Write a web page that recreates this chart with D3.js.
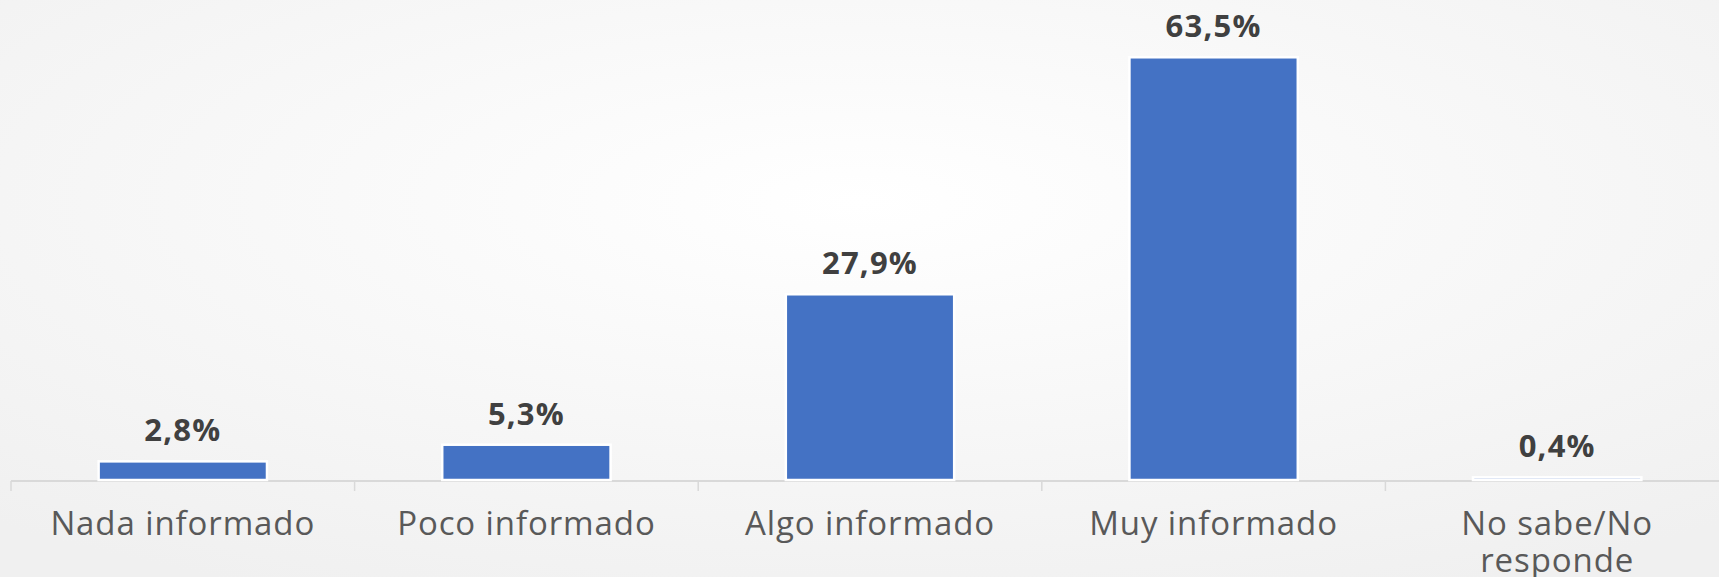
<!DOCTYPE html>
<html>
<head>
<meta charset="utf-8">
<script src="https://cdn.jsdelivr.net/npm/d3@7"></script>
<style>
  html, body { margin: 0; padding: 0; overflow: hidden; }
  body { width: 1719px; height: 577px; }
</style>
</head>
<body>
<section></section>
<script>
const categories = ["Nada informado", "Poco informado", "Algo informado", "Muy informado", "No sabe/No responde"];
const values = [2.8, 5.3, 27.9, 63.5, 0.4];
const valueLabels = ["2,8%", "5,3%", "27,9%", "63,5%", "0,4%"];

const width = 1719, height = 577;

const svg = d3.select("section")
  .append("svg")
  .attr("width", width)
  .attr("height", height);

// soft radial background
const defs = svg.append("defs");
const bg = defs.append("radialGradient")
  .attr("id", "bg")
  .attr("cx", "0.5").attr("cy", "0.35").attr("r", "0.75");
bg.append("stop").attr("offset", "0%").attr("stop-color", "#ffffff");
bg.append("stop").attr("offset", "100%").attr("stop-color", "#f0f0f0");
svg.append("rect").attr("width", width).attr("height", height).attr("fill", "url(#bg)");

const x = d3.scaleBand()
  .domain(categories)
  .range([11, 11 + 5 * 343.6])
  .paddingInner(0.51)
  .paddingOuter(0.255);

const y = d3.scaleLinear()
  .domain([0, 70])
  .range([480, 14]);

// axis line + ticks at band boundaries
const axis = svg.append("g").attr("class", "x-axis");
axis.append("line")
  .attr("x1", 11).attr("x2", width)
  .attr("y1", y(0) + 1).attr("y2", y(0) + 1)
  .attr("stroke", "#d9d9d9").attr("stroke-width", 2);

const step = x.step();
axis.selectAll(".tick")
  .data(categories)
  .join("line")
  .attr("class", "tick")
  .attr("x1", (d, i) => 11 + i * step)
  .attr("x2", (d, i) => 11 + i * step)
  .attr("y1", y(0) + 1)
  .attr("y2", y(0) + 11)
  .attr("stroke", "#d9d9d9")
  .attr("stroke-width", 1.5);

// bars
svg.append("g")
  .selectAll("rect")
  .data(values)
  .join("rect")
  .attr("x", (d, i) => x(categories[i]))
  .attr("y", d => y(d))
  .attr("width", x.bandwidth())
  .attr("height", d => y(0) - y(d))
  .attr("fill", "#4472c4")
  .attr("stroke", "#ffffff")
  .attr("stroke-width", 2.5);

// value labels
svg.append("g")
  .selectAll("text")
  .data(values)
  .join("text")
  .attr("x", (d, i) => x(categories[i]) + x.bandwidth() / 2)
  .attr("y", d => y(d) - 20)
  .attr("text-anchor", "middle")
  .attr("font-family", "'Open Sans', sans-serif")
  .attr("font-weight", 700)
  .attr("font-size", 31)
  .attr("letter-spacing", 1.2)
  .attr("fill", "#404040")
  .text((d, i) => valueLabels[i]);

// category labels (wrapped where needed)
const catG = svg.append("g");
categories.forEach((c, i) => {
  const lines = c === "No sabe/No responde" ? ["No sabe/No", "responde"] : [c];
  const t = catG.append("text")
    .attr("x", x(c) + x.bandwidth() / 2)
    .attr("y", 535)
    .attr("text-anchor", "middle")
    .attr("font-family", "'Open Sans', sans-serif")
    .attr("font-size", 33)
    .attr("letter-spacing", 0.9)
    .attr("fill", "#595959");
  lines.forEach((l, j) => {
    t.append("tspan")
      .attr("x", x(c) + x.bandwidth() / 2)
      .attr("dy", j === 0 ? 0 : 37)
      .text(l);
  });
});
</script>
</body>
</html>
